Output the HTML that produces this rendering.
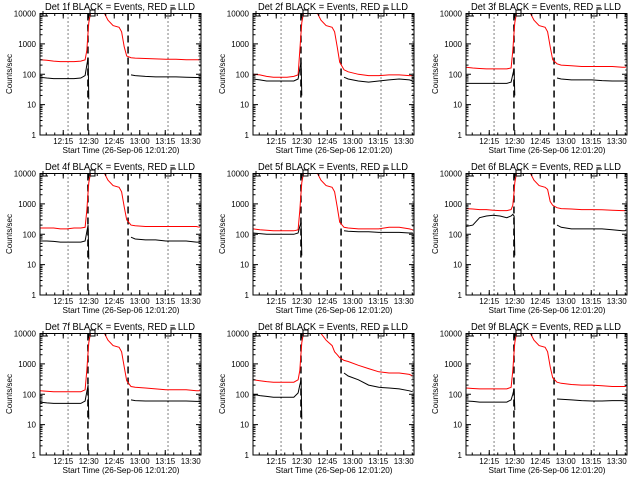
<!DOCTYPE html>
<html><head><meta charset="utf-8"><style>
html,body{margin:0;padding:0;background:#fff;width:640px;height:480px;overflow:hidden}
svg{display:block}
text{font-family:"Liberation Sans",sans-serif;fill:#000}
</style></head><body>
<svg id="chart" width="640" height="480" viewBox="0 0 640 480" xmlns="http://www.w3.org/2000/svg"></svg>
<script>
// Time in minutes since start (12:01:20)
const times = [0,4,8,12,16,20,24,26.5,27.5,28.3,28.7,29.5,31,34,37.5,40,43,46.5,48,49.5,51,53.5,56,62,68,74,80,86,92,94];
const detectors = ["1f","2f","3f","4f","5f","6f","7f","8f","9f"];
const xTickLabels = ["12:15","12:30","12:45","13:00","13:15","13:30"];
const xTickMinutes = [13.67,28.67,43.67,58.67,73.67,88.67];
const yTickLabels = ["1","10","100","1000","10000"];
const yTickValues = [1,10,100,1000,10000];
const dottedLines = [16.5,75.3,94];
const dashedLines = [28.2,51.8];
const F = [2500,5000,9000,15000,15000,11000,6000,4000,3500,2500,800];
const red1 = [300,290,270,260,260,260,270,300,600,2500,5000,9000,15000,15000,11000,6000,4000,3500,2500,800,400,350,340,330,320,310,310,300,300,300];
const red2 = [100,95,85,80,80,80,85,95,600,2500,5000,9000,15000,15000,11000,6000,4000,3500,2500,800,250,140,120,100,90,90,95,95,90,90];
const red3 = [170,160,155,150,150,150,150,160,600,2500,5000,9000,15000,15000,11000,6000,4000,3500,2500,800,300,220,200,190,180,180,180,180,170,170];
const red4 = [160,160,160,150,150,160,160,170,600,2500,5000,9000,15000,15000,11000,6000,4000,3500,2500,800,300,200,190,180,180,180,180,180,180,170];
const red5 = [150,140,135,130,130,130,130,140,600,2500,5000,9000,15000,15000,11000,6000,4000,3500,2500,800,250,170,160,150,150,150,170,170,150,140];
const red6 = [700,680,650,650,620,600,600,650,900,2500,5000,9000,15000,15000,11000,6000,4000,3500,3000,1200,900,750,700,680,650,650,640,620,600,600];
const red7 = [130,125,120,120,120,120,120,140,600,2500,5000,9000,15000,15000,11000,6000,4000,3500,2500,800,280,180,170,160,150,140,140,140,130,130];
const red8 = [300,280,260,250,250,250,250,300,600,2500,5000,9000,15000,15000,15000,10000,6000,4000,2500,2000,1600,1300,1200,900,700,550,500,500,450,400];
const red9 = [160,155,150,150,150,150,150,170,600,2500,5000,9000,15000,15000,11000,6000,4000,3500,2500,800,350,250,230,210,200,200,190,180,180,180];
const N = null;
const blk1 = [80,75,72,72,72,72,75,90,200,350,15,N,N,N,N,N,N,N,N,N,N,95,90,85,82,82,82,80,78,78];
const blk2 = [70,65,60,60,60,60,60,70,150,250,20,N,N,N,N,N,N,N,N,N,N,80,70,60,55,60,65,70,65,60];
const blk3 = [50,50,50,50,50,50,50,55,100,150,20,N,N,N,N,N,N,N,N,N,N,75,70,65,65,65,62,60,60,60];
const blk4 = [60,60,58,55,55,55,55,60,120,200,15,N,N,N,N,N,N,N,N,N,N,80,70,65,65,60,60,60,55,55];
const blk5 = [110,105,100,100,100,100,100,110,180,250,20,N,N,N,N,N,N,N,N,N,N,130,125,120,120,115,115,115,110,110];
const blk6 = [180,200,350,400,420,400,350,400,450,400,20,N,N,N,N,N,N,N,N,N,N,200,170,150,150,150,150,140,130,130];
const blk7 = [55,52,50,50,50,50,50,60,120,200,15,N,N,N,N,N,N,N,N,N,N,65,62,60,60,60,60,60,58,58];
const blk8 = [100,90,85,80,80,80,80,110,200,300,15,N,N,N,N,N,N,N,N,N,N,500,400,300,200,170,160,150,130,120];
const blk9 = [60,58,55,55,55,55,55,65,100,150,30,N,N,N,N,N,N,N,N,N,N,70,68,65,62,60,60,62,62,60];
const reds = [red1,red2,red3,red4,red5,red6,red7,red8,red9];
const blacks = [blk1,blk2,blk3,blk4,blk5,blk6,blk7,blk8,blk9];

const NS = "http://www.w3.org/2000/svg";
const svg = document.getElementById("chart");
function mk(tag, attrs, parent){
  const e = document.createElementNS(NS, tag);
  for (const k in attrs) e.setAttribute(k, attrs[k]);
  parent.appendChild(e); return e;
}
const PX0 = 40, PX1 = 201, PY0 = 13.5, PY1 = 135, TMAX = 94.7;
function xs(t){ return PX0 + (PX1-PX0)*t/TMAX; }
function ys(v){ const l = Math.log10(Math.max(v,0.5)); return PY1 - (PY1-PY0)*l/4; }

const defs = mk("defs", {}, svg);
const cp = mk("clipPath", {id:"plotclip"}, defs);
mk("rect", {x:PX0, y:PY0, width:PX1-PX0, height:PY1-PY0}, cp);

function pathFor(arr){
  let d = "", pen = false;
  for (let i=0;i<times.length;i++){
    const v = arr[i];
    if (v === null){ pen = false; continue; }
    d += (pen ? "L" : "M") + xs(times[i]).toFixed(1) + "," + ys(v).toFixed(1);
    pen = true;
  }
  return d;
}

for (let p=0;p<9;p++){
  const col = p%3, row = Math.floor(p/3);
  const g = mk("g", {transform:`translate(${col*213},${row*160})`}, svg);
  
  

  const title = mk("text", {x:120, y:10, "font-size":10, "text-anchor":"middle", textLength:150, lengthAdjust:"spacingAndGlyphs"}, g);
  title.textContent = `Det ${detectors[p]} BLACK = Events, RED = LLD`;
  
  

  // reference lines
  dottedLines.forEach(t=>{
    const l = mk("line", {x1:xs(t), x2:xs(t), y1:PY0, y2:PY1, stroke:"#000", "stroke-width":1, "stroke-dasharray":"1,3"}, g);
    
    
  });
  dashedLines.forEach(t=>{
    const l = mk("line", {x1:xs(t), x2:xs(t), y1:PY0, y2:PY1, stroke:"#000", "stroke-width":1.5, "stroke-dasharray":"7,4"}, g);
    
    
  });

  const cg = mk("g", {"clip-path":"url(#plotclip)"}, g);
  const rl = mk("path", {d:pathFor(reds[p]), fill:"none", stroke:"#ff0000", "stroke-width":1}, cg);
  
  
  const bl = mk("path", {d:pathFor(blacks[p]), fill:"none", stroke:"#000", "stroke-width":1}, cg);
  
  

  // frame
  const fr = mk("rect", {x:PX0, y:PY0, width:PX1-PX0, height:PY1-PY0, fill:"none", stroke:"#000", "stroke-width":1}, g);
  
  

  // y ticks
  yTickValues.forEach((v,i)=>{
    const y = ys(v);
    mk("line", {x1:PX0, x2:PX0+5, y1:y, y2:y, stroke:"#000"}, g);
    mk("line", {x1:PX1-5, x2:PX1, y1:y, y2:y, stroke:"#000"}, g);
    if (i < yTickValues.length-1){
      for (let m=2;m<10;m++){
        const ym = ys(v*m);
        mk("line", {x1:PX0, x2:PX0+2.5, y1:ym, y2:ym, stroke:"#000"}, g);
        mk("line", {x1:PX1-2.5, x2:PX1, y1:ym, y2:ym, stroke:"#000"}, g);
      }
    }
    const t = mk("text", {x:36, y:y+3, "font-size":8, "text-anchor":"end"}, g);
    t.textContent = yTickLabels[i];
    
    
  });
  // x ticks
  for (let m=3.67; m<TMAX; m+=5){
    const x = xs(m);
    mk("line", {x1:x, x2:x, y1:PY1, y2:PY1-2.5, stroke:"#000"}, g);
    mk("line", {x1:x, x2:x, y1:PY0, y2:PY0+2.5, stroke:"#000"}, g);
  }
  xTickMinutes.forEach((m,i)=>{
    const x = xs(m);
    mk("line", {x1:x, x2:x, y1:PY1, y2:PY1-5, stroke:"#000"}, g);
    mk("line", {x1:x, x2:x, y1:PY0, y2:PY0+5, stroke:"#000"}, g);
    const t = mk("text", {x:x, y:144, "font-size":8, "text-anchor":"middle"}, g);
    t.textContent = xTickLabels[i];
    
    
  });
  const xt = mk("text", {x:121, y:153, "font-size":8.5, "text-anchor":"middle", textLength:117, lengthAdjust:"spacingAndGlyphs"}, g);
  xt.textContent = "Start Time (26-Sep-06 12:01:20)";
  
  
  const yt = mk("text", {x:0, y:0, "font-size":8, "text-anchor":"middle", transform:"translate(12,74) rotate(-90)"}, g);
  yt.textContent = "Counts/sec";
  
  

  // attenuator state marks
  const mkr = mk("path", {d:"M43,11V16H48 M90,10V16H95V10Z M176,9H171V16H166", fill:"none", stroke:"#000", "stroke-width":1}, g);
  
  
}
</script>
</body></html>
